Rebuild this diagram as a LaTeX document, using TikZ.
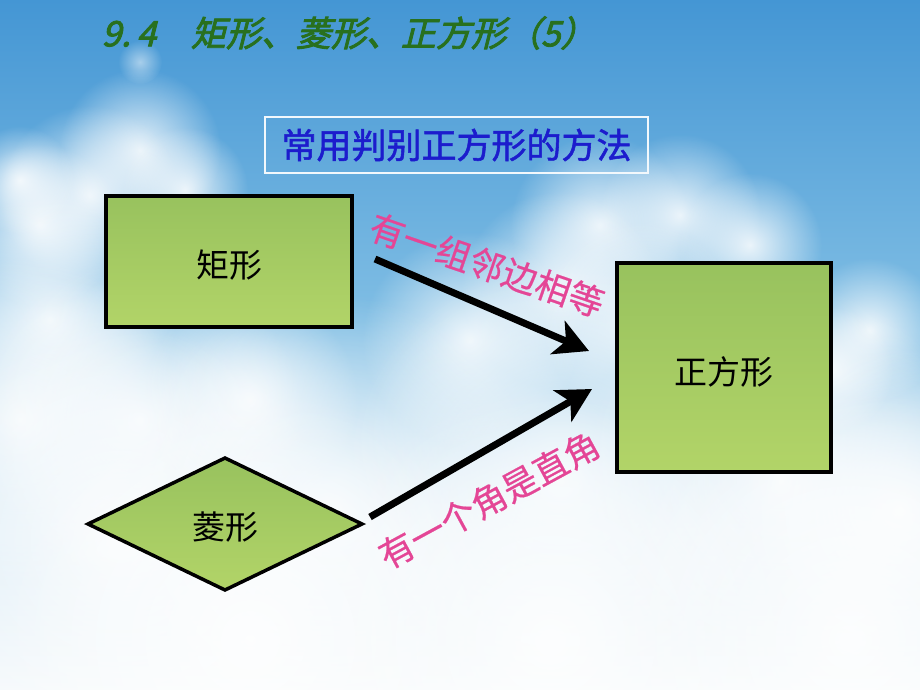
\documentclass[tikz,border=0pt]{standalone}
\usepackage{fontspec}
\setmainfont{Noto Sans CJK SC}
\newfontfamily\titlefont[FakeSlant=0.25,FakeBold=2.5]{Noto Sans CJK SC}
\newfontfamily\headfont[FakeBold=1.5]{Noto Sans CJK SC}
\newfontfamily\labfont[FakeBold=0.6]{Noto Sans CJK SC}
\usetikzlibrary{arrows.meta,fadings}
\tikzfading[name=softcirc, inner color=transparent!0, outer color=transparent!100]
\definecolor{skytop}{RGB}{68,150,212}
\definecolor{skymid}{RGB}{128,190,228}
\definecolor{skylow}{RGB}{215,234,245}
\definecolor{skybot}{RGB}{246,250,252}
\definecolor{titlegreen}{RGB}{40,112,30}
\definecolor{boxblue}{RGB}{28,28,205}
\definecolor{labpink}{RGB}{228,70,150}
\definecolor{shapetop}{RGB}{152,194,94}
\definecolor{shapebot}{RGB}{178,212,104}
\tikzset{
  cloud/.style={fill=white, path fading=softcirc, opacity=#1},
  cloud/.default=0.85,
  shapebox/.style={draw=black, line width=4pt, top color=shapetop, bottom color=shapebot},
  shapetext/.style={font=\fontsize{33}{36}\selectfont, text=black},
  bigarrow/.style={line width=7pt, -{Stealth[length=34pt,width=36pt,inset=9pt]}},
  arrowlab/.style={font=\labfont\fontsize{35}{37}\selectfont, text=labpink},
}
\begin{document}
\begin{tikzpicture}[x=1pt,y=-1pt]
\useasboundingbox (0,0) rectangle (920,690);
% sky
\shade[top color=skytop, bottom color=skymid] (0,0) rectangle (920,320);
\shade[top color=skymid, bottom color=skylow] (0,320) rectangle (920,530);
\shade[top color=skylow, bottom color=skybot] (0,530) rectangle (920,690);
% clouds
\begin{scope}
\clip (0,0) rectangle (920,690);
\fill[cloud=0.5] (140,62) circle[radius=22];
\foreach \x/\y/\r in {140/150/45,90/195/50,40/225/45,185/190/35,20/180/30,
  50/320/70,20/420/90,140/420/90,250/400/60,
  600/225/50,680/215/45,750/245/40,560/290/55,470/340/60,640/320/55,
  870/330/40,830/370/35,
  120/540/120,330/510/120,560/480/120,780/480/110,900/510/90,
  250/640/140,550/640/140,850/640/140}
  {\fill[cloud] (\x,\y) circle[radius=1.8*\r];}
\end{scope}
% title
\node[anchor=west, text=titlegreen, font=\titlefont\fontsize{35}{38}\selectfont] (title) at (98,33) {9.\,4\quad 矩形、菱形、正方形（5）};
% header box
\node[draw=white!90!skymid, line width=2.5pt, minimum width=383pt, minimum height=56pt, inner sep=0pt,
  text=boxblue, font=\headfont\fontsize{35}{38}\selectfont] (head) at (456.5,145) {常用判别正方形的方法};
% shapes
\node[shapebox, minimum width=246pt, minimum height=131pt] (rect) at (229,261.5) {};
\node[shapetext] (recttext) at (229,265) {矩形};
\node[shapebox, minimum width=214pt, minimum height=209pt] (sq) at (724,367.5) {};
\node[shapetext] (sqtext) at (724,372) {正方形};
\coordinate (dl) at (88,524);
\coordinate (dt) at (225,458);
\coordinate (dr) at (362,524);
\coordinate (db) at (225,590);
\fill[top color=shapetop, bottom color=shapebot] (dl) -- (dt) -- (dr) -- (db) -- cycle;
\draw[line width=3.5pt, line join=miter] (dl) -- (dt) -- (dr) -- (db) -- cycle;
\node[shapetext] (rhtext) at (225,527) {菱形};
% arrows
\coordinate (a1s) at (375,259);
\coordinate (a1e) at (589,351);
\coordinate (a2s) at (370,517);
\coordinate (a2e) at (592,389);
\draw[bigarrow] (a1s) -- (a1e);
\draw[bigarrow] (a2s) -- (a2e);
\node[arrowlab, rotate=-19] (lab1) at (487,265) {有一组邻边相等};
\node[arrowlab, rotate=28.5] (lab2) at (489,500) {有一个角是直角};
\end{tikzpicture}
\end{document}
